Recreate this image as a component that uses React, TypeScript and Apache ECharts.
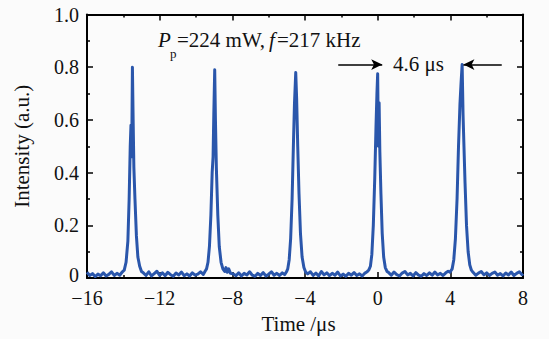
import React, { useEffect, useRef } from "react";
import * as echarts from "echarts";

// Tick values
const xTickValues = [-16, -12, -8, -4, 0, 4, 8];
const yTickValues = [0, 0.2, 0.4, 0.6, 0.8, 1.0];

// Baseline stretches between pulses [time (µs), intensity (a.u.)]
const baseA = [[-16, 0.022], [-15.85, 0.01], [-15.7, 0.017], [-15.55, 0.006], [-15.4, 0.015], [-15.25, 0.009], [-15.1, 0.02], [-14.95, 0.008], [-14.8, 0.014], [-14.65, 0.024], [-14.5, 0.01], [-14.35, 0.018], [-14.2, 0.011], [-14.05, 0.024]];
const baseB = [[-12.9, 0.02], [-12.75, 0.01], [-12.6, 0.024], [-12.45, 0.008], [-12.3, 0.017], [-12.15, 0.026], [-12.0, 0.01], [-11.85, 0.02], [-11.7, 0.009], [-11.55, 0.022], [-11.4, 0.013], [-11.25, 0.007], [-11.1, 0.019], [-10.95, 0.012], [-10.8, 0.023], [-10.65, 0.009], [-10.5, 0.016], [-10.35, 0.008], [-10.2, 0.02], [-10.05, 0.011], [-9.9, 0.015], [-9.75, 0.024], [-9.6, 0.014], [-9.5, 0.026]];
const baseC = [[-7.95, 0.016], [-7.8, 0.009], [-7.65, 0.02], [-7.5, 0.008], [-7.35, 0.018], [-7.2, 0.012], [-7.05, 0.024], [-6.9, 0.011], [-6.75, 0.007], [-6.6, 0.018], [-6.45, 0.01], [-6.3, 0.021], [-6.15, 0.008], [-6.0, 0.015], [-5.85, 0.024], [-5.7, 0.011], [-5.55, 0.018], [-5.4, 0.01], [-5.25, 0.02], [-5.12, 0.013], [-5.02, 0.024]];
const baseD = [[-3.85, 0.016], [-3.7, 0.024], [-3.55, 0.01], [-3.4, 0.019], [-3.25, 0.008], [-3.1, 0.025], [-2.95, 0.012], [-2.8, 0.02], [-2.65, 0.009], [-2.5, 0.018], [-2.35, 0.011], [-2.2, 0.023], [-2.05, 0.008], [-1.9, 0.015], [-1.75, 0.007], [-1.6, 0.018], [-1.45, 0.011], [-1.3, 0.021], [-1.15, 0.01], [-1.0, 0.016], [-0.85, 0.008], [-0.7, 0.019], [-0.58, 0.024], [-0.48, 0.032]];
const baseE = [[0.62, 0.02], [0.75, 0.011], [0.9, 0.023], [1.05, 0.013], [1.2, 0.008], [1.35, 0.019], [1.5, 0.025], [1.65, 0.012], [1.8, 0.018], [1.95, 0.008], [2.1, 0.021], [2.25, 0.011], [2.4, 0.007], [2.55, 0.017], [2.7, 0.01], [2.85, 0.02], [3.0, 0.011], [3.15, 0.023], [3.3, 0.012], [3.45, 0.018], [3.6, 0.01], [3.75, 0.02], [3.88, 0.026], [3.98, 0.022]];
const baseF = [[5.25, 0.022], [5.4, 0.011], [5.55, 0.019], [5.7, 0.025], [5.85, 0.012], [6.0, 0.02], [6.15, 0.01], [6.3, 0.018], [6.45, 0.023], [6.6, 0.011], [6.75, 0.017], [6.9, 0.008], [7.05, 0.019], [7.2, 0.012], [7.35, 0.023], [7.5, 0.01], [7.65, 0.018], [7.8, 0.024], [7.95, 0.013], [8.0, 0.017]];

// The five pulses
const pulse1 = [[-13.95, 0.03], [-13.85, 0.06], [-13.75, 0.14], [-13.68, 0.3], [-13.62, 0.5], [-13.58, 0.58], [-13.54, 0.46], [-13.5, 0.8], [-13.46, 0.6], [-13.42, 0.42], [-13.36, 0.3], [-13.28, 0.16], [-13.2, 0.08], [-13.1, 0.045], [-13.0, 0.025]];
const pulse2 = [[-9.42, 0.035], [-9.34, 0.06], [-9.26, 0.12], [-9.18, 0.24], [-9.11, 0.4], [-9.06, 0.46], [-9.02, 0.62], [-8.97, 0.79], [-8.93, 0.6], [-8.88, 0.42], [-8.8, 0.24], [-8.72, 0.12], [-8.62, 0.06], [-8.52, 0.035], [-8.42, 0.025], [-8.35, 0.04], [-8.28, 0.022], [-8.2, 0.035], [-8.1, 0.018]];
const pulse3 = [[-4.95, 0.035], [-4.87, 0.07], [-4.79, 0.15], [-4.71, 0.3], [-4.64, 0.5], [-4.58, 0.66], [-4.51, 0.78], [-4.46, 0.68], [-4.4, 0.5], [-4.33, 0.32], [-4.25, 0.17], [-4.16, 0.08], [-4.06, 0.04], [-3.96, 0.022]];
const pulse4 = [[-0.4, 0.045], [-0.32, 0.09], [-0.24, 0.2], [-0.16, 0.38], [-0.09, 0.58], [-0.04, 0.7], [0.0, 0.775], [0.04, 0.5], [0.08, 0.665], [0.12, 0.48], [0.18, 0.32], [0.25, 0.17], [0.33, 0.08], [0.42, 0.04], [0.52, 0.025]];
const pulse5 = [[4.1, 0.035], [4.19, 0.07], [4.28, 0.15], [4.37, 0.3], [4.45, 0.5], [4.53, 0.66], [4.59, 0.74], [4.65, 0.81], [4.7, 0.62], [4.75, 0.5], [4.81, 0.36], [4.89, 0.2], [4.98, 0.1], [5.07, 0.05], [5.16, 0.03]];

// Period annotation arrows (data coordinates)
const arrowLeft = [[-2.17, 0.81], [0.25, 0.81]];
const arrowRight = [[6.83, 0.81], [4.72, 0.81]];

const FONT = "Liberation Serif";
const LINE_COLOR = "#2a56ab";

export default function App() {
  const ref = useRef<HTMLDivElement>(null);

  useEffect(() => {
    document.body.style.margin = "0";
    if (!ref.current) return;
    const chart = echarts.init(ref.current, undefined, { renderer: "svg" });

    const trace = [
      ...baseA, ...pulse1, ...baseB, ...pulse2, ...baseC, ...pulse3,
      ...baseD, ...pulse4, ...baseE, ...pulse5, ...baseF,
    ];

    const xMin = xTickValues[0];
    const xMax = xTickValues[xTickValues.length - 1];
    const xInt = xTickValues[1] - xTickValues[0];
    const yMin = yTickValues[0];
    const yMax = yTickValues[yTickValues.length - 1];
    const yInt = yTickValues[1] - yTickValues[0];

    const axisLine = { show: true, onZero: false, lineStyle: { color: "#000", width: 2 } };
    const axisTick = { show: true, inside: true, length: 6, lineStyle: { color: "#000", width: 1.5 } };
    const minorTick = { show: true, splitNumber: 2, length: 3, lineStyle: { color: "#000", width: 1.5 } };
    const textBase = { color: "#111", fontFamily: FONT };

    chart.setOption({
      animation: false,
      backgroundColor: "#fbfbfb",
      textStyle: { fontFamily: FONT },
      grid: { left: 87, right: 26, top: 14.5, bottom: 48.5, containLabel: false },
      xAxis: [
        {
          type: "value",
          position: "bottom",
          min: xMin,
          max: xMax,
          interval: xInt,
          axisLine,
          axisTick,
          minorTick,
          splitLine: { show: false },
          axisLabel: {
            ...textBase,
            margin: 12,
            fontSize: 20,
            lineHeight: 16,
            formatter: (v: number) => String(v).replace("-", "\u2212"),
          },
          name: "Time /\u03bcs",
          nameLocation: "middle",
          nameGap: 31,
          nameTextStyle: { ...textBase, fontSize: 21, padding: [0, 13, 0, 0] },
        },
        {
          type: "value",
          position: "top",
          min: xMin,
          max: xMax,
          interval: xInt,
          axisLine,
          axisTick,
          minorTick,
          splitLine: { show: false },
          axisLabel: { show: false },
        },
      ],
      yAxis: [
        {
          type: "value",
          position: "left",
          min: yMin,
          max: yMax,
          interval: yInt,
          axisLine,
          axisTick,
          minorTick,
          splitLine: { show: false },
          axisLabel: {
            ...textBase,
            margin: 8,
            fontSize: 20,
            lineHeight: 16,
            formatter: (v: number) => (v === 0 ? "{z|0}" : v.toFixed(1)),
            rich: {
              z: { ...textBase, fontSize: 20, lineHeight: 16, padding: [0, 0, 6, 0] },
            },
          },
          name: "Intensity (a.u.)",
          nameLocation: "middle",
          nameGap: 55,
          nameTextStyle: { ...textBase, fontSize: 21 },
        },
        {
          type: "value",
          position: "right",
          min: yMin,
          max: yMax,
          interval: yInt,
          axisLine,
          axisTick,
          minorTick,
          splitLine: { show: false },
          axisLabel: { show: false },
        },
      ],
      series: [
        {
          type: "line",
          xAxisIndex: 0,
          yAxisIndex: 0,
          data: trace,
          showSymbol: false,
          symbol: "none",
          lineStyle: { color: LINE_COLOR, width: 3, join: "round" },
          z: 3,
          markLine: {
            silent: true,
            symbol: ["none", "arrow"],
            symbolSize: [8, 11],
            label: { show: false },
            lineStyle: { color: "#000", width: 1.5, type: "solid" },
            data: [
              [{ coord: arrowLeft[0] }, { coord: arrowLeft[1] }],
              [{ coord: arrowRight[0] }, { coord: arrowRight[1] }],
            ],
          },
        },
      ],
      graphic: [
        { type: "text", left: 158, top: 29, style: { text: "P", fontFamily: FONT, fontStyle: "italic", fontSize: 21, fill: "#111" } },
        { type: "text", left: 170, top: 47, style: { text: "p", fontFamily: FONT, fontSize: 13, fill: "#111" } },
        { type: "text", left: 177, top: 29, style: { text: "=224 mW,", fontFamily: FONT, fontSize: 21, fill: "#111" } },
        { type: "text", left: 269, top: 29, style: { text: "f", fontFamily: FONT, fontStyle: "italic", fontSize: 21, fill: "#111" } },
        { type: "text", left: 277, top: 29, style: { text: "=217 kHz", fontFamily: FONT, fontSize: 21, fill: "#111" } },
        { type: "text", left: 393, top: 53, style: { text: "4.6 \u03bcs", fontFamily: FONT, fontSize: 21, fill: "#111" } },
      ],
    });

    return () => {
      chart.dispose();
    };
  }, []);

  return <div ref={ref} style={{ width: 549, height: 339 }} />;
}
